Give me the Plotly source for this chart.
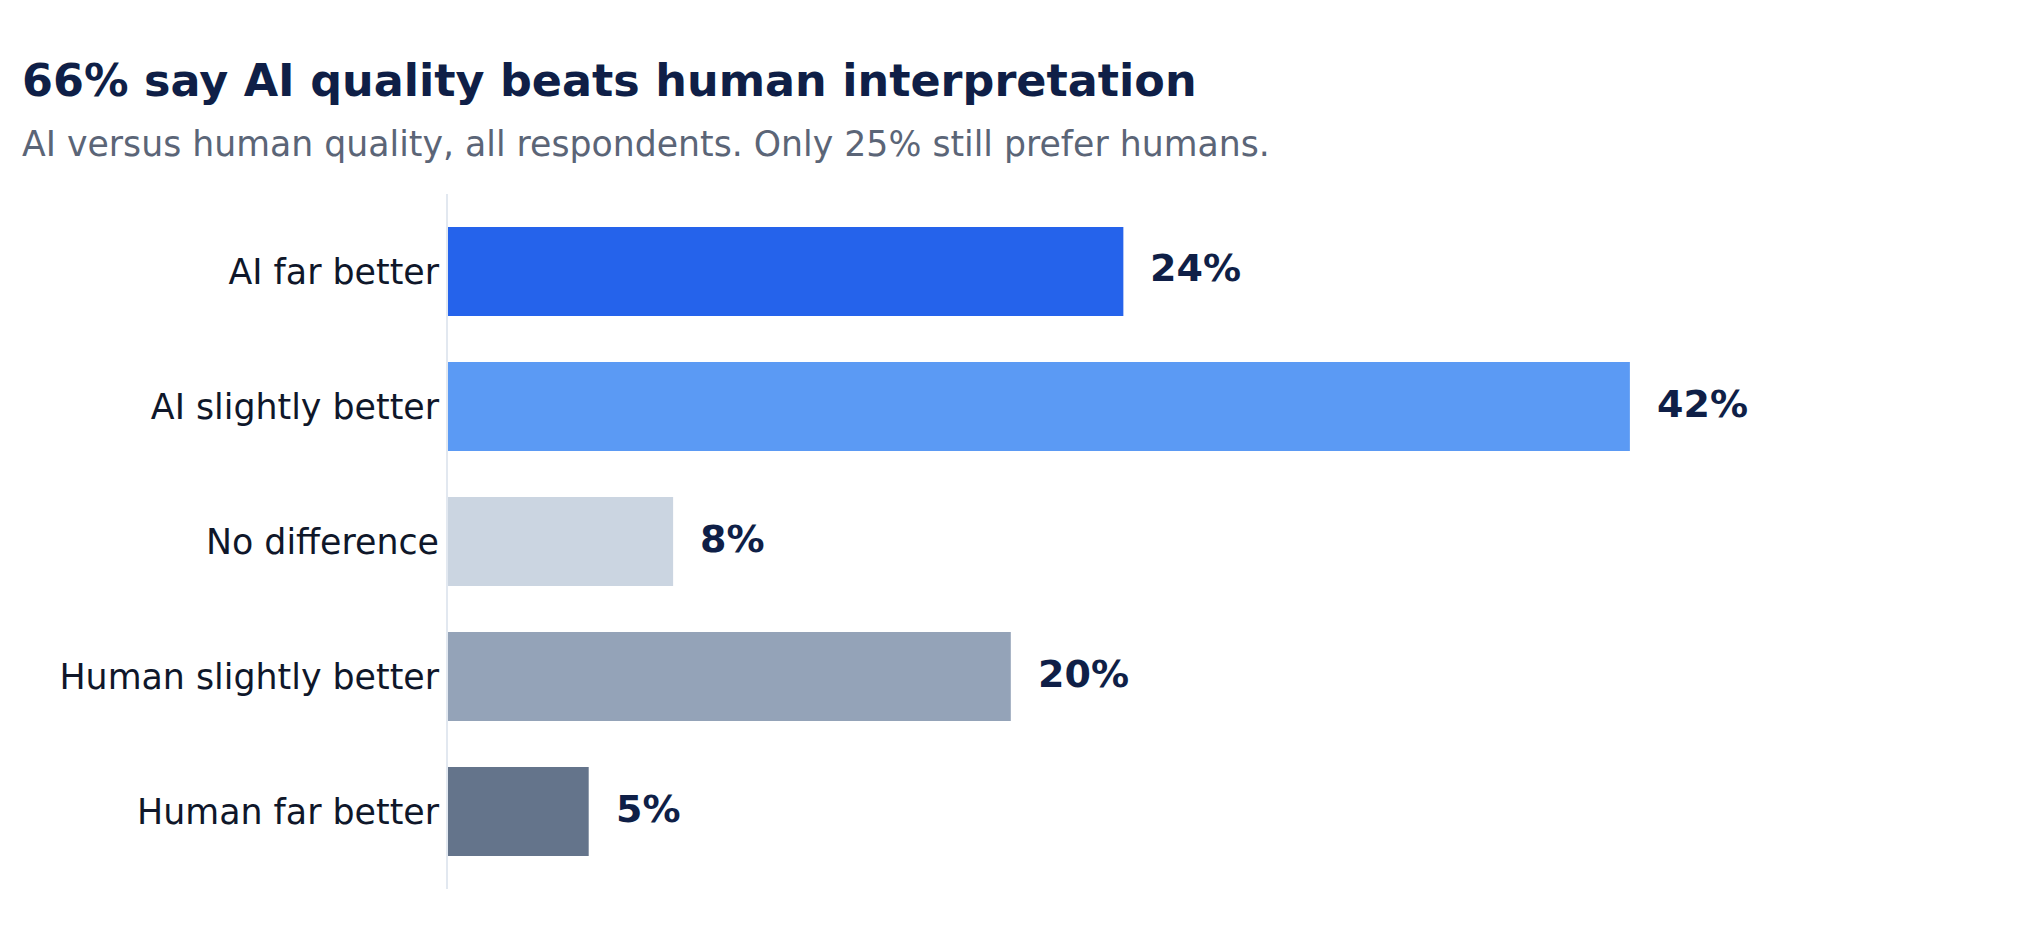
import plotly.graph_objects as go

# --- AI vs human interpretation quality, all respondents ---

categories = ['AI far better', 'AI slightly better', 'No difference', 'Human slightly better', 'Human far better']
shares = [24, 42, 8, 20, 5]
bar_colors = ['#2563EB', '#5B9AF4', '#CBD5E1', '#94A3B8', '#64748B']

title_text = '66% say AI quality beats human interpretation'
subtitle_text = 'AI versus human quality, all respondents. Only 25% still prefer humans.'

navy = '#0F1F47'
font_name = 'DejaVu Sans'

W, H = 2027, 947
ml, mr, mt, mb = 440, 50, 186, 66
plot_w = W - ml - mr
plot_h = H - mt - mb

fig = go.Figure()
fig.add_trace(go.Bar(
    x=shares, y=categories, orientation='h',
    marker=dict(color=bar_colors, line=dict(width=0)),
    width=0.66, hoverinfo='skip',
))

# value labels to the right of each bar
for cat, val in zip(categories, shares):
    fig.add_annotation(x=val, y=cat, text='<b>%d%%</b>' % val, showarrow=False,
                       xanchor='left', yanchor='middle', xshift=25, yshift=3,
                       font=dict(family=font_name, size=38, color=navy))

# title + subtitle placed in pixel terms relative to the plot area
title_x = (12 - ml) / plot_w
fig.add_annotation(xref='paper', yref='paper', x=title_x, y=(H - 59 - 79) / (H - 193 - 59),
                   xanchor='left', yanchor='middle', showarrow=False,
                   text='<b>' + title_text + '</b>',
                   font=dict(family=font_name, size=44.5, color=navy))
fig.add_annotation(xref='paper', yref='paper', x=title_x, y=(H - 59 - 143.5) / (H - 193 - 59),
                   xanchor='left', yanchor='middle', showarrow=False,
                   text=subtitle_text,
                   font=dict(family=font_name, size=34.7, color='#5B6577'))

fig.update_layout(
    width=W, height=H,
    margin=dict(l=ml, r=mr, t=mt, b=mb),
    plot_bgcolor='white', paper_bgcolor='white',
    showlegend=False,
    font=dict(family=font_name),
    xaxis=dict(range=[0, plot_w / 28.14], visible=False, showgrid=False, zeroline=False),
    yaxis=dict(range=[4.574, -0.574], showgrid=False, zeroline=False,
               showline=True, linecolor='#E2E8F0', linewidth=2,
               ticks='', tickfont=dict(family=font_name, size=34.8, color='#0F172A')),
)

fig.write_html('out.html')
